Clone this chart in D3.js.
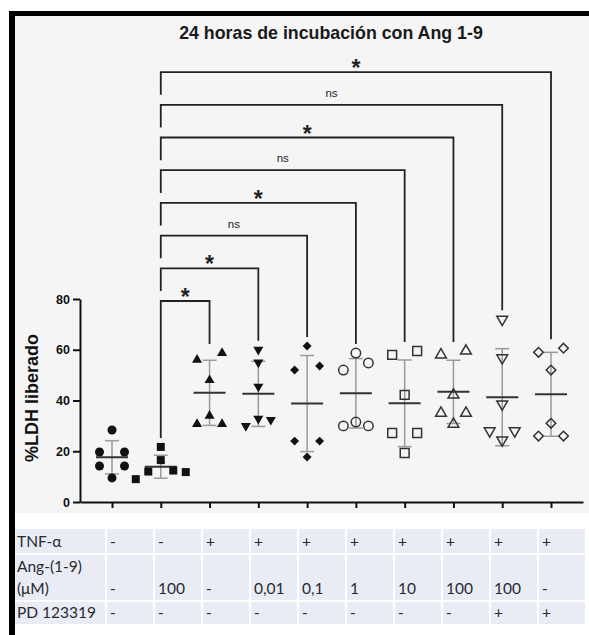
<!DOCTYPE html>
<html lang="es">
<head>
<meta charset="utf-8"/>
<script src="https://d3js.org/d3.v7.min.js"></script>
<title>LDH liberado</title>
<style>
  body { margin: 0; background: #fff; }
  svg { display: block; }
  .axis text { font-family: "Liberation Sans", Arial, sans-serif; font-weight: bold; font-size: 12.5px; fill: #111; }
  .axis path, .axis line { stroke: #111; stroke-width: 2px; }
  .tbl { font-family: Lato, "Open Sans", sans-serif; font-size: 15.5px; fill: #2a2a2a; }
</style>
</head>
<body>
<svg id="chart"></svg>
<script>
// ---- data ----
const groupNames = ["Control", "Ang 100", "TNF", "TNF+Ang 0,01", "TNF+Ang 0,1",
                    "TNF+Ang 1", "TNF+Ang 10", "TNF+Ang 100", "TNF+Ang 100+PD", "TNF+PD"];
const ldh = [
  [28.4, 19.7, 19.7, 14.2, 14.2, 9.5],
  [21.7, 16.5, 12.4, 12.0, 11.8, 9.0],
  [58.7, 56.0, 48.0, 34.0, 30.7, 30.7],
  [60.0, 55.0, 45.5, 32.8, 32.4, 30.0],
  [61.5, 53.6, 52.0, 24.0, 24.0, 17.7],
  [58.7, 54.8, 52.0, 31.5, 30.0, 30.0],
  [59.5, 58.0, 42.2, 27.2, 27.2, 19.3],
  [59.5, 58.0, 42.2, 35.0, 35.0, 30.7],
  [72.0, 56.8, 38.6, 28.0, 28.0, 24.4],
  [60.6, 59.0, 52.0, 31.0, 26.0, 26.0]
];
const yTicks = [0, 20, 40, 60, 80];
// comparisons against group 2 (index 1), from the lowest bracket up
const compTargets = [2, 3, 4, 5, 6, 7, 8, 9];
const compLabels = ["*", "*", "ns", "*", "ns", "*", "ns", "*"];

const rowHeaders = [["TNF-α"], ["Ang-(1-9)", "(μM)"], ["PD 123319"]];
const tnfRow = ["-", "-", "+", "+", "+", "+", "+", "+", "+", "+"];
const angRow = ["-", "100", "-", "0,01", "0,1", "1", "10", "100", "100", "-"];
const pdRow  = ["-", "-", "-", "-", "-", "-", "-", "-", "+", "+"];

// ---- styles ----
const shapes = ["circle", "square", "triangle", "triangleDown", "diamond",
                "circle", "square", "triangle", "triangleDown", "diamond"];
const filled = [true, true, true, true, true, false, false, false, false, false];

const width = 589, height = 635;
const svg = d3.select("#chart").attr("width", width).attr("height", height);

// frame
svg.append("rect").attr("x", 15).attr("y", 16).attr("width", 574).attr("height", 497).attr("fill", "#f5f5f5");
svg.append("rect").attr("x", 9).attr("y", 11).attr("width", 580).attr("height", 5).attr("fill", "#000");
svg.append("rect").attr("x", 9).attr("y", 11).attr("width", 6).attr("height", 624).attr("fill", "#000");

const x = d3.scalePoint().domain(d3.range(groupNames.length)).range([80, 583]).padding(0.656);
const y = d3.scaleLinear().domain([0, 80]).range([502, 299]);

svg.append("text")
  .attr("x", 331).attr("y", 39)
  .attr("text-anchor", "middle")
  .style("font-family", "'Liberation Sans', Arial, sans-serif")
  .style("font-weight", "bold").style("font-size", "17.8px").style("fill", "#1a1a1a")
  .text("24 horas de incubación con Ang 1-9");

svg.append("text")
  .attr("transform", "translate(38,398) rotate(-90)")
  .attr("text-anchor", "middle")
  .style("font-family", "'Liberation Sans', Arial, sans-serif")
  .style("font-weight", "bold").style("font-size", "18px").style("fill", "#111")
  .text("%LDH liberado");

svg.append("g").attr("class", "axis")
  .attr("transform", "translate(80,0)")
  .call(d3.axisLeft(y).tickValues(yTicks).tickSize(7).tickSizeOuter(0).tickPadding(3));

svg.append("g").attr("class", "axis")
  .attr("transform", "translate(0,502)")
  .call(d3.axisBottom(x).tickSize(6).tickSizeOuter(0).tickFormat(""));

// mean & SD
const stats = ldh.map(v => ({ m: d3.mean(v), s: d3.deviation(v) }));
const sdG = svg.append("g").attr("stroke", "#9a9a9a").attr("stroke-width", 1.5);
stats.forEach((d, i) => {
  const cx = x(i);
  sdG.append("line").attr("x1", cx).attr("x2", cx).attr("y1", y(d.m - d.s)).attr("y2", y(d.m + d.s));
  [d.m - d.s, d.m + d.s].forEach(v =>
    sdG.append("line").attr("x1", cx - 7).attr("x2", cx + 7).attr("y1", y(v)).attr("y2", y(v)));
  svg.append("line").attr("x1", cx - 16).attr("x2", cx + 16).attr("y1", y(d.m)).attr("y2", y(d.m))
    .attr("stroke", "#333").attr("stroke-width", 2);
});

// scatter spreading: points closer than rowGap px share a row and are spread sideways
const rowGap = 8.8, slotW = 12.5;
function spread(vals) {
  const pts = vals.map(v => ({ v, py: y(v) })).sort((a, b) => a.py - b.py);
  const rows = [];
  pts.forEach(p => {
    const row = rows[rows.length - 1];
    if (row && p.py - row[row.length - 1].py < rowGap) row.push(p);
    else rows.push([p]);
  });
  rows.forEach(row => {
    const order = row.length % 2 ? [0, 1, -1, 2, -2] : [1, -1, 2, -2];
    row.forEach((p, k) => p.slot = order[k]);
  });
  return pts;
}

function symbolPath(shape, open) {
  const s = d3.symbol();
  if (shape === "circle") return s.type(d3.symbolCircle).size(open ? 70 : 64)();
  if (shape === "square") return s.type(d3.symbolSquare).size(open ? 78 : 64)();
  if (shape === "diamond") return s.type(d3.symbolSquare).size(open ? 46 : 40)();
  return s.type(d3.symbolTriangle).size(open ? 50 : 44)();
}
function symbolRot(shape) {
  return shape === "diamond" ? 45 : shape === "triangleDown" ? 180 : 0;
}

ldh.forEach((vals, i) => {
  const open = !filled[i];
  svg.append("g").selectAll("path")
    .data(spread(vals))
    .join("path")
    .attr("d", symbolPath(shapes[i], open))
    .attr("transform", d => `translate(${x(i) + d.slot * slotW},${d.py}) rotate(${symbolRot(shapes[i])})`)
    .attr("fill", open ? "none" : "#111")
    .attr("stroke", open ? "#333" : "none")
    .attr("stroke-width", 1.5);
});

// significance brackets
const brkBottom = 301, brkStep = 32.7;
const brG = svg.append("g");
compTargets.forEach((t, k) => {
  const by = brkBottom - k * brkStep;
  const x0 = x(1), x1 = x(t);
  const leftEnd = k === 0 ? y(d3.max(ldh[1])) - 9 : brkBottom - (k - 1) * brkStep - 10;
  const rightEnd = y(d3.max(ldh[t])) - 9;
  brG.append("path")
    .attr("d", `M${x0},${leftEnd}V${by}H${x1}V${rightEnd}`)
    .attr("fill", "none").attr("stroke", "#222").attr("stroke-width", 1.8);
  const star = compLabels[k] === "*";
  brG.append("text")
    .attr("x", (x0 + x1) / 2)
    .attr("y", star ? by + 4 : by - 8)
    .attr("text-anchor", "middle")
    .style("font-family", "'Liberation Sans', Arial, sans-serif")
    .style("font-weight", star ? "bold" : "normal")
    .style("font-size", star ? "23px" : "11.5px")
    .style("fill", "#222")
    .text(compLabels[k]);
});

// condition table
const tblRows = [tnfRow, angRow, pdRow];
const rowTop = [529, 555, 602], rowH = [24, 45, 22];
const headX = 15, headW = 91, colW = 48;
const lineBase = [[547], [572, 594], [618]];
const tbl = svg.append("g").attr("class", "tbl");
tblRows.forEach((row, r) => {
  tbl.append("rect").attr("x", headX).attr("y", rowTop[r]).attr("width", headW - 1).attr("height", rowH[r]).attr("fill", "#e9ebf5");
  rowHeaders[r].forEach((line, j) =>
    tbl.append("text").attr("x", headX + 2).attr("y", lineBase[r][j]).text(line));
  row.forEach((val, c) => {
    const cx = headX + headW + c * colW;
    tbl.append("rect").attr("x", cx + 1).attr("y", rowTop[r]).attr("width", colW - 2).attr("height", rowH[r]).attr("fill", "#e9ebf5");
    tbl.append("text").attr("x", cx + 4).attr("y", lineBase[r][lineBase[r].length - 1]).text(val);
  });
});
</script>
</body>
</html>
